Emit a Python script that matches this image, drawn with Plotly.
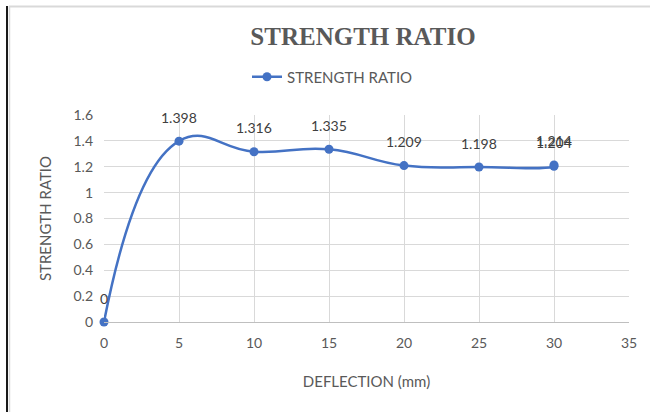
import plotly.graph_objects as go

deflection = [0, 5, 10, 15, 20, 25, 30, 30]
strength_ratio = [0, 1.398, 1.316, 1.335, 1.209, 1.198, 1.204, 1.214]
labels = ["0", "1.398", "1.316", "1.335", "1.209", "1.198", "1.204", "1.214"]

x_ticks = [0, 5, 10, 15, 20, 25, 30, 35]
y_ticks = [0, 0.2, 0.4, 0.6, 0.8, 1, 1.2, 1.4, 1.6]
y_tick_text = ["0", "0.2", "0.4", "0.6", "0.8", "1", "1.2", "1.4", "1.6"]

BLUE = "#4472C4"
GRAY = "#595959"
GRID = "#D9D9D9"
FONT = "Lato, Open Sans, sans-serif"

fig = go.Figure()
fig.add_trace(go.Scatter(
    x=deflection, y=strength_ratio,
    mode="lines+markers",
    name="STRENGTH RATIO",
    line=dict(color=BLUE, width=2.5, shape="spline", smoothing=1.3),
    marker=dict(color=BLUE, size=9),
    cliponaxis=False,
))

for xv, yv, lab in zip(deflection, strength_ratio, labels):
    fig.add_annotation(x=xv, y=yv, text=lab, showarrow=False, yshift=24,
                       font=dict(family=FONT, size=14, color="#404040"))

fig.update_layout(
    width=650, height=412,
    margin=dict(l=104, r=21, t=115, b=90),
    paper_bgcolor="white", plot_bgcolor="white",
    title=dict(text="<b>STRENGTH RATIO</b>", x=363 / 650, xanchor="center",
               y=1 - 36 / 412, yanchor="middle",
               font=dict(family="Liberation Serif, Times New Roman, serif", size=25, color=GRAY)),
    showlegend=True,
    legend=dict(orientation="h", x=(247 - 104) / 525, xanchor="left",
                y=(322 - 77) / 207, yanchor="middle",
                font=dict(family=FONT, size=15, color=GRAY), bgcolor="rgba(0,0,0,0)"),
    xaxis=dict(range=[0, 35], tickvals=x_ticks, showgrid=True, gridcolor=GRID, gridwidth=1,
               zeroline=False, showline=True, linecolor="#BFBFBF", ticks="",
               ticklabelstandoff=8,
               tickfont=dict(family=FONT, size=14, color=GRAY),
               title=dict(text="DEFLECTION (mm)", font=dict(family=FONT, size=15, color=GRAY), standoff=26)),
    yaxis=dict(range=[0, 1.6], tickvals=y_ticks, ticktext=y_tick_text, showgrid=True,
               gridcolor=GRID, gridwidth=1, zeroline=False, showline=False, ticks="",
               ticklabelstandoff=10,
               tickfont=dict(family=FONT, size=14, color=GRAY),
               title=dict(text="STRENGTH RATIO", font=dict(family=FONT, size=15, color=GRAY), standoff=18)),
)

# outer frame lines
fig.add_shape(type="line", xref="paper", yref="paper",
              x0=(7 - 104) / 525, x1=(7 - 104) / 525, y0=(322 - 6) / 207, y1=(322 - 412) / 207,
              line=dict(color="#1a1a1a", width=2))
fig.add_shape(type="line", xref="paper", yref="paper",
              x0=(9 - 104) / 525, x1=(650 - 104) / 525, y0=(322 - 6.5) / 207, y1=(322 - 6.5) / 207,
              line=dict(color="#D9D9D9", width=2))
fig.add_shape(type="line", xref="paper", yref="paper",
              x0=(9.5 - 104) / 525, x1=(9.5 - 104) / 525, y0=(322 - 6) / 207, y1=(322 - 412) / 207,
              line=dict(color="#D9D9D9", width=1.5))

fig.write_html("out.html", config={"displayModeBar": False},
               post_script="document.body.style.margin='0';document.body.style.overflow='hidden';")
